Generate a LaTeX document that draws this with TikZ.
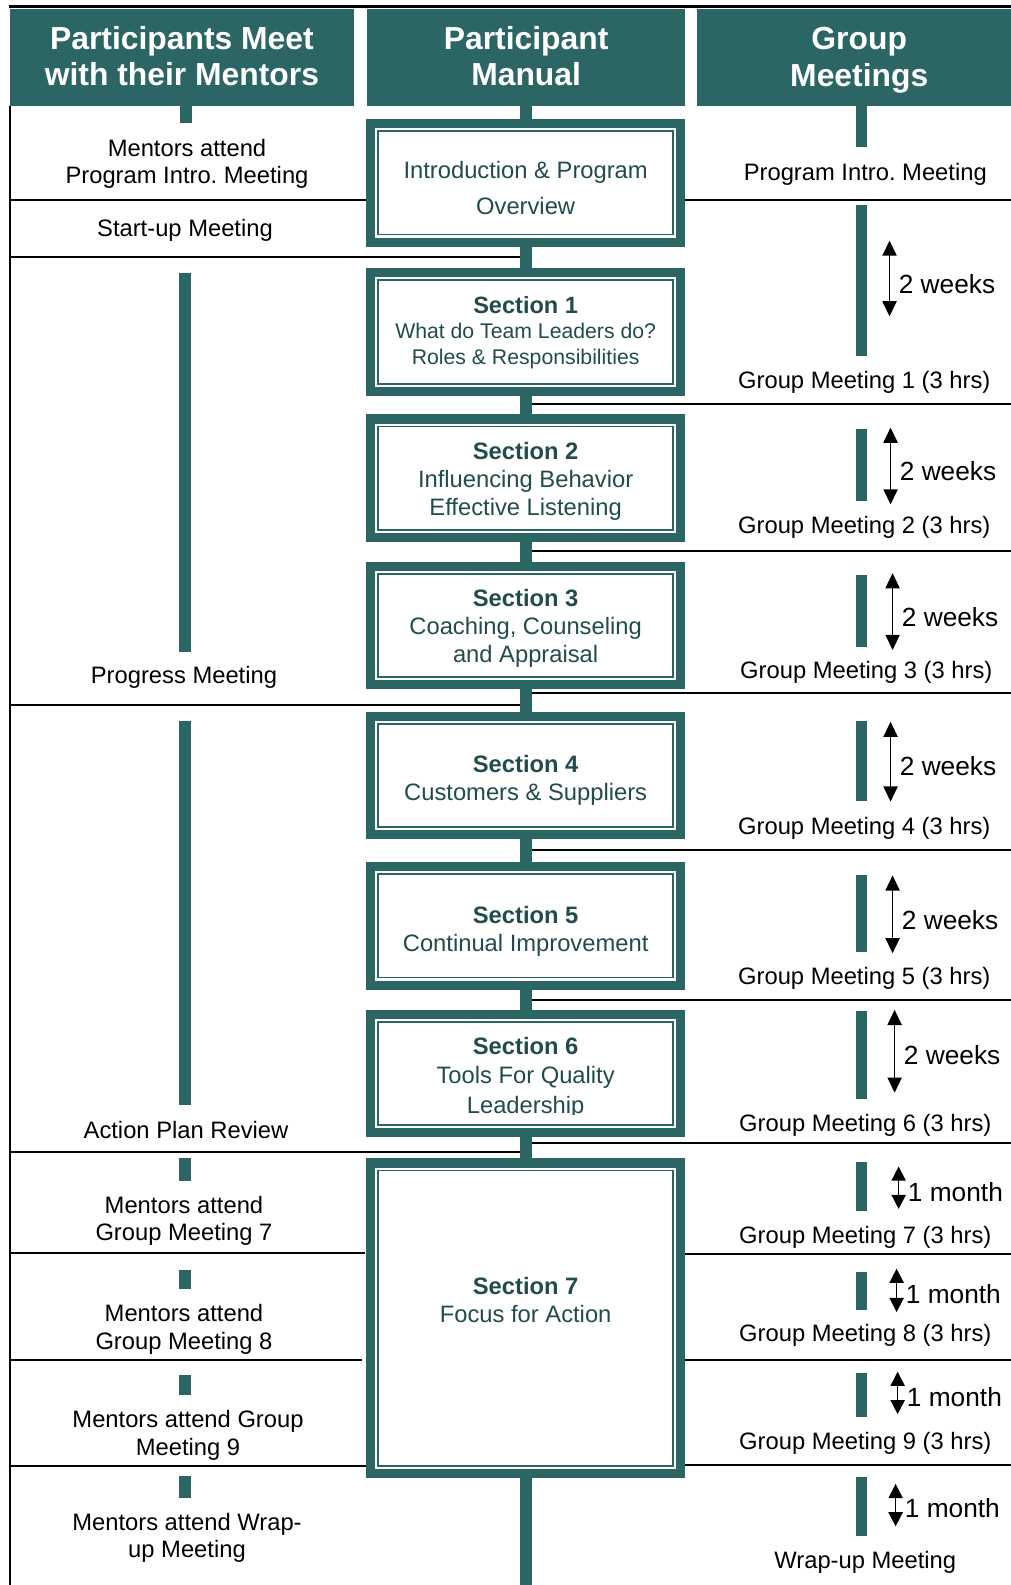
\documentclass[tikz,border=0pt]{standalone}
\usepackage{fontspec}
\setmainfont{Liberation Sans}
\usetikzlibrary{arrows.meta}
\definecolor{tealm}{RGB}{43,102,101}
\definecolor{boxtxt}{RGB}{33,76,75}
\frenchspacing
\tikzset{
  hdr/.style={fill=tealm, text=white, font=\fontsize{31.5}{36}\selectfont\bfseries, align=center, inner sep=0pt, outer sep=0pt},
  secbox/.style={draw=tealm, line width=9pt, fill=white, minimum width=307pt, inner sep=0pt, outer sep=0pt},
  innerframe/.style={draw=tealm, line width=1.8pt},
  conn/.style={draw=tealm, line width=12pt},
  rule/.style={draw=black, line width=2pt},
  txt/.style={font=\fontsize{23.5}{27}\selectfont, align=center, inner sep=0pt},
  btxt/.style={text=boxtxt, font=\fontsize{23.5}{27.5}\selectfont, align=center, inner sep=0pt},
  dur/.style={font=\fontsize{26}{30}\selectfont, anchor=west, inner sep=0pt},
  dblw/.style={draw=black, line width=1.6pt, {Triangle[width=14pt,length=15pt]}-{Triangle[width=14pt,length=15pt]}},
  dblm/.style={draw=black, line width=1.6pt, {Triangle[width=14pt,length=14pt]}-{Triangle[width=14pt,length=14pt]}},
}
\begin{document}
\begin{tikzpicture}[x=1pt,y=-1pt]
\useasboundingbox (0,0) rectangle (1000,1568);
\clip (0,0) rectangle (1000,1568);

% top line and headers
\draw[black, line width=3pt] (9,6.5) -- (1010,6.5);
\node[hdr, minimum width=340pt, minimum height=96pt] (h1) at (180,57) {Participants Meet\\with their Mentors\rule[-3pt]{0pt}{0pt}};
\node[hdr, minimum width=315pt, minimum height=96pt] (h2) at (520.5,57) {Participant\\Manual\rule[-3pt]{0pt}{0pt}};
\node[hdr, minimum width=320pt, minimum height=96pt] (h3) at (850,57) {\rule{0pt}{27pt}Group\\Meetings};

% left border
\draw[black, line width=2pt] (10,105) -- (10,1575);

% section boxes
\node[secbox, minimum height=117pt] (b0) at (520,181) {};
\node[secbox, minimum height=118pt] (b1) at (520,328.5) {};
\node[secbox, minimum height=117pt] (b2) at (520,473) {};
\node[secbox, minimum height=117pt] (b3) at (520,619) {};
\node[secbox, minimum height=117pt] (b4) at (520,767) {};
\node[secbox, minimum height=117pt] (b5) at (520,916) {};
\node[secbox, minimum height=117pt] (b6) at (520,1062) {};
\node[secbox, minimum height=307pt] (b7) at (520,1304) {};
\foreach \b in {b0,b1,b2,b3,b4,b5,b6,b7}
  \draw[innerframe] ([shift={(7.5,7.5)}]\b.north west) rectangle ([shift={(-7.5,-7.5)}]\b.south east);

% centre connectors
\coordinate (cbot) at (520,1575);
\draw[conn] (h2.south -| b0.north) -- (b0.north);
\draw[conn] (b0.south) -- (b1.north);
\draw[conn] (b1.south) -- (b2.north);
\draw[conn] (b2.south) -- (b3.north);
\draw[conn] (b3.south) -- (b4.north);
\draw[conn] (b4.south) -- (b5.north);
\draw[conn] (b5.south) -- (b6.north);
\draw[conn] (b6.south) -- (b7.north);
\draw[conn] (b7.south) -- (cbot);

% box texts
\node[btxt, font=\fontsize{23.5}{36}\selectfont] (t0) at (520,186) {Introduction \& Program\\Overview};
\node[btxt, font=\fontsize{21}{25}\selectfont] (t1) at (520,329) {{\fontsize{23.3}{25}\selectfont\bfseries Section 1}\\What do Team Leaders do?\\Roles \& Responsibilities};
\node[btxt] (t2) at (520,476) {\textbf{Section 2}\\Influencing Behavior\\Effective Listening};
\node[btxt] (t3) at (520,621.5) {\textbf{Section 3}\\Coaching, Counseling\\and Appraisal};
\node[btxt] (t4) at (520,772) {\textbf{Section 4}\\Customers \& Suppliers};
\node[btxt] (t5) at (520,921) {\textbf{Section 5}\\Continual Improvement};
\begin{scope}
\clip (370,1010) rectangle (670,1103);
\node[btxt, font=\fontsize{23.5}{29}\selectfont] (t6) at (520,1066) {\textbf{Section 6}\\Tools For Quality\\Leadership};
\end{scope}
\node[btxt] (t7) at (520,1286) {\textbf{Section 7}\\Focus for Action};

% left column bars
\fill[tealm] (178,105) rectangle (190,122);
\fill[tealm] (177,270) rectangle (189,645);
\fill[tealm] (177,713) rectangle (189,1093);
\fill[tealm] (177,1146) rectangle (189,1168);
\fill[tealm] (177,1256) rectangle (189,1275);
\fill[tealm] (177,1360) rectangle (189,1380);
\fill[tealm] (177,1460) rectangle (189,1482);

% left rules
\draw[rule] (10,198) -- (362,198);
\draw[rule] (10,254) -- (514,254);
\draw[rule] (10,697) -- (514,697);
\draw[rule] (10,1140) -- (514,1140);
\draw[rule] (10,1240) -- (361,1240);
\draw[rule] (10,1345) -- (358,1345);
\draw[rule] (10,1450) -- (362,1450);

% left texts
\node[txt] (l0) at (185,162) {Mentors attend\\Program Intro. Meeting};
\node[txt] (l1) at (183,228) {Start-up Meeting};
\node[txt] (l2) at (182,670) {Progress Meeting};
\node[txt] (l3) at (184,1118) {Action Plan Review};
\node[txt] (l4) at (182,1208) {Mentors attend\\Group Meeting 7};
\node[txt] (l5) at (182,1315) {Mentors attend\\Group Meeting 8};
\node[txt] (l6) at (186,1420) {Mentors attend Group\\Meeting 9};
\node[txt] (l7) at (185,1521) {Mentors attend Wrap-\\up Meeting};

% right column bars
\fill[tealm] (847,105) rectangle (858,145);
\fill[tealm] (847,203) rectangle (858,352);
\fill[tealm] (847,424) rectangle (858,496);
\fill[tealm] (847,569) rectangle (858,640);
\fill[tealm] (847,713) rectangle (858,792);
\fill[tealm] (847,866) rectangle (858,942);
\fill[tealm] (847,1000) rectangle (858,1087);
\fill[tealm] (847,1150) rectangle (858,1198);
\fill[tealm] (847,1258) rectangle (858,1296);
\fill[tealm] (847,1358) rectangle (858,1402);
\fill[tealm] (847,1461) rectangle (858,1520);

% right rules
\draw[rule] (678,198) -- (1010,198);
\draw[rule] (526,400) -- (1010,400);
\draw[rule] (526,545) -- (1010,545);
\draw[rule] (526,686) -- (1010,686);
\draw[rule] (526,841) -- (1010,841);
\draw[rule] (526,989) -- (1010,989);
\draw[rule] (526,1131) -- (1010,1131);
\draw[rule] (678,1241) -- (1010,1241);
\draw[rule] (678,1345) -- (1010,1345);
\draw[rule] (678,1449) -- (1010,1449);

% right texts
\node[txt] (r0) at (856,172) {Program Intro. Meeting};
\node[txt] (g1) at (855,378) {Group Meeting 1 (3 hrs)};
\node[txt] (g2) at (855,522) {Group Meeting 2 (3 hrs)};
\node[txt] (g3) at (857,665) {Group Meeting 3 (3 hrs)};
\node[txt] (g4) at (855,819) {Group Meeting 4 (3 hrs)};
\node[txt] (g5) at (855,968) {Group Meeting 5 (3 hrs)};
\node[txt] (g6) at (856,1113) {Group Meeting 6 (3 hrs)};
\node[txt] (g7) at (856,1224) {Group Meeting 7 (3 hrs)};
\node[txt] (g8) at (856,1321) {Group Meeting 8 (3 hrs)};
\node[txt] (g9) at (856,1428) {Group Meeting 9 (3 hrs)};
\node[txt] (gw) at (856,1546) {Wrap-up Meeting};

% durations
\coordinate (a1t) at (880,238);  \coordinate (a1b) at (880,313);
\coordinate (a2t) at (881,423);  \coordinate (a2b) at (881,499);
\coordinate (a3t) at (883,567);  \coordinate (a3b) at (883,643);
\coordinate (a4t) at (881,714);  \coordinate (a4b) at (881,793);
\coordinate (a5t) at (883,866);  \coordinate (a5b) at (883,943);
\coordinate (a6t) at (885,999);  \coordinate (a6b) at (885,1081);
\coordinate (a7t) at (889,1154); \coordinate (a7b) at (889,1196);
\coordinate (a8t) at (887,1255); \coordinate (a8b) at (887,1298);
\coordinate (a9t) at (888,1357); \coordinate (a9b) at (888,1399);
\coordinate (a10t) at (886,1468); \coordinate (a10b) at (886,1510);
\draw[dblw] (a1t) -- (a1b);
\draw[dblw] (a2t) -- (a2b);
\draw[dblw] (a3t) -- (a3b);
\draw[dblw] (a4t) -- (a4b);
\draw[dblw] (a5t) -- (a5b);
\draw[dblw] (a6t) -- (a6b);
\draw[dblm] (a7t) -- (a7b);
\draw[dblm] (a8t) -- (a8b);
\draw[dblm] (a9t) -- (a9b);
\draw[dblm] (a10t) -- (a10b);
\node[dur] (d1) at (889,281) {2 weeks};
\node[dur] (d2) at (890,466) {2 weeks};
\node[dur] (d3) at (892,610) {2 weeks};
\node[dur] (d4) at (890,758) {2 weeks};
\node[dur] (d5) at (892,910) {2 weeks};
\node[dur] (d6) at (894,1044) {2 weeks};
\node[dur] (d7) at (898,1179) {1 month};
\node[dur] (d8) at (896,1280) {1 month};
\node[dur] (d9) at (897,1382) {1 month};
\node[dur] (d10) at (895,1492) {1 month};
\end{tikzpicture}
\end{document}
